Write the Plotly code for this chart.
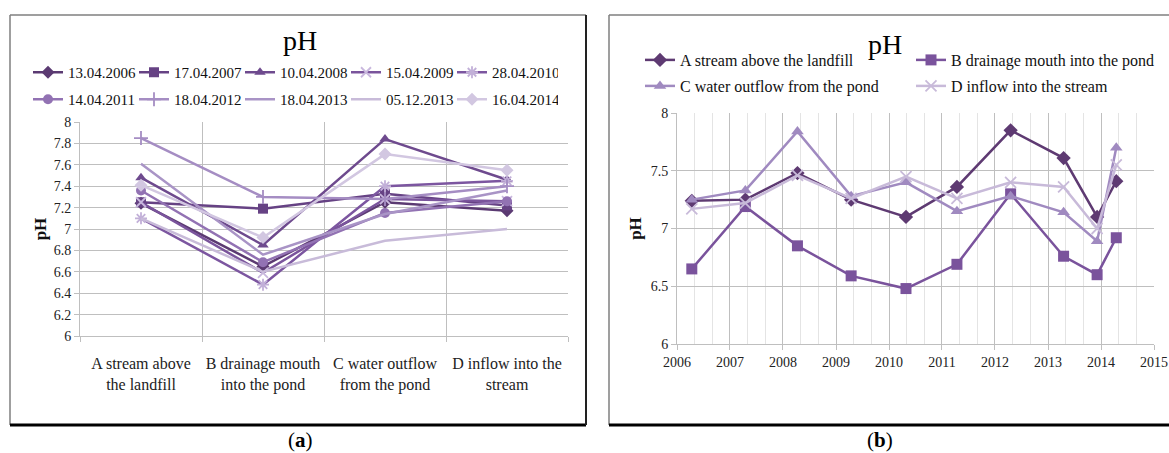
import plotly.graph_objects as go

W, H = 1169, 453

# ---------------- data ----------------
dates = ["13.04.2006", "17.04.2007", "10.04.2008", "15.04.2009", "28.04.2010",
         "14.04.2011", "18.04.2012", "18.04.2013", "05.12.2013", "16.04.2014"]
dates_iso = ["2006-04-13", "2007-04-17", "2008-04-10", "2009-04-15", "2010-04-28",
             "2011-04-14", "2012-04-18", "2013-04-18", "2013-12-05", "2014-04-16"]
sites = ["A stream above the landfill", "B drainage mouth into the pond",
         "C water outflow from the pond", "D inflow into the stream"]
site_ticks = ["A stream above<br>the landfill", "B drainage mouth<br>into the pond",
              "C water outflow<br>from the pond", "D inflow into the<br>stream"]

ph_A = [7.24, 7.25, 7.48, 7.25, 7.10, 7.36, 7.85, 7.61, 7.10, 7.41]
ph_B = [6.65, 7.19, 6.85, 6.59, 6.48, 6.69, 7.30, 6.76, 6.60, 6.92]
ph_C = [7.25, 7.33, 7.84, 7.28, 7.40, 7.15, 7.28, 7.14, 6.89, 7.70]
ph_D = [7.17, 7.22, 7.46, 7.26, 7.45, 7.26, 7.40, 7.36, 7.00, 7.55]
ph_sites = [ph_A, ph_B, ph_C, ph_D]

# ---------------- styles ----------------
FONT = "Liberation Serif"
date_colors = ["#5B3A72", "#664284", "#6E4A8E", "#7A549C", "#7C56A0",
               "#9272B3", "#A58DC3", "#A994C6", "#C8BBD9", "#D2C7E1"]
date_mcolors = ["#5B3A72", "#664284", "#6E4A8E", "#C9B8DE", "#C2B0D8",
                "#9272B3", "#A58DC3", "#A994C6", "#C8BBD9", "#D2C7E1"]
date_symbols = ["diamond", "square", "triangle-up", "x-thin", "asterisk",
                "circle", "cross-thin", None, None, "diamond"]
site_colors = ["#5E3A72", "#7A539C", "#A08AC0", "#C8BAD9"]
site_symbols = ["diamond", "square", "triangle-up", "x-thin"]

GRID = "#BFBFBF"

def fx(p):
    return p / W

def fy(p):
    return 1 - p / H

fig = go.Figure()

# ---------------- left chart ----------------
for i, d in enumerate(dates):
    yv = [ph_sites[k][i] for k in range(4)]
    sym = date_symbols[i]
    open_sym = sym in ("x-thin", "asterisk", "cross-thin")
    mk = dict(size=10, color=date_mcolors[i],
              line=dict(width=1.8 if open_sym else 0, color=date_mcolors[i]))
    if sym:
        mk["symbol"] = sym
    fig.add_trace(go.Scatter(
        x=site_ticks, y=yv, name=d,
        mode="lines+markers" if sym else "lines",
        line=dict(color=date_colors[i], width=2.5),
        marker=mk,
        xaxis="x", yaxis="y",
        legend="legend" if i < 5 else "legend2",
    ))

# ---------------- right chart ----------------
for j, s in enumerate(sites):
    sym = site_symbols[j]
    open_sym = sym == "x-thin"
    fig.add_trace(go.Scatter(
        x=dates_iso, y=ph_sites[j], name=s,
        mode="lines+markers",
        line=dict(color=site_colors[j], width=2.5),
        marker=dict(symbol=sym, size=11, color=site_colors[j],
                    line=dict(width=1.8 if open_sym else 0, color=site_colors[j])),
        xaxis="x2", yaxis="y2",
        legend="legend3" if j < 2 else "legend4",
    ))

axis_font = dict(family=FONT, size=16, color="#222")
tick_font = dict(family=FONT, size=14, color="#222")

leg_common = dict(orientation="h", xanchor="left", yanchor="top",
                  bgcolor="rgba(0,0,0,0)", borderwidth=0,
                  entrywidthmode="pixels", itemwidth=30)

fig.update_layout(
    width=W, height=H,
    margin=dict(l=0, r=0, t=0, b=0, autoexpand=False),
    paper_bgcolor="white", plot_bgcolor="white",
    font=dict(family=FONT, color="#111"),
    xaxis=dict(domain=[fx(80), fx(568)], anchor="y", type="category",
               tickson="boundaries", range=[-0.5, 3.5], tickangle=0,
               ticklabelstandoff=13,
               showgrid=True, gridcolor=GRID, gridwidth=1,
               showline=True, linecolor=GRID, linewidth=1,
               ticks="outside", ticklen=5, tickcolor=GRID,
               tickfont=axis_font, zeroline=False),
    yaxis=dict(domain=[fy(336), fy(122)], anchor="x", range=[6, 8],
               dtick=0.2, tick0=6,
               showgrid=True, gridcolor=GRID, gridwidth=1,
               showline=True, linecolor=GRID, linewidth=1,
               ticks="outside", ticklen=5, tickcolor=GRID,
               tickfont=tick_font, zeroline=False,
               title=dict(text="<b>pH</b>", font=dict(family=FONT, size=17), standoff=2)),
    xaxis2=dict(domain=[fx(677), fx(1154)], anchor="y2", type="date",
                range=["2006-01-01", "2015-01-01"], tick0="2006-01-01",
                dtick="M12", tickformat="%Y", tickangle=0,
                showgrid=True, gridcolor=GRID, gridwidth=1,
                minor=dict(dtick="M4", showgrid=True, gridcolor="#E4E4E4", ticks=""),
                showline=True, linecolor=GRID, linewidth=1,
                ticks="outside", ticklen=5, tickcolor=GRID,
                tickfont=tick_font, zeroline=False),
    yaxis2=dict(domain=[fy(344), fy(113)], anchor="x2", range=[6, 8],
                dtick=0.5, tick0=6,
                showgrid=True, gridcolor=GRID, gridwidth=1,
                showline=True, linecolor=GRID, linewidth=1,
                ticks="outside", ticklen=5, tickcolor=GRID,
                tickfont=tick_font, zeroline=False,
                title=dict(text="<b>pH</b>", font=dict(family=FONT, size=17), standoff=4)),
    legend=dict(x=fx(28), y=fy(56), entrywidth=61,
                font=dict(family=FONT, size=15, color="#111"), **leg_common),
    legend2=dict(x=fx(28), y=fy(83), entrywidth=61,
                 font=dict(family=FONT, size=15, color="#111"), **leg_common),
    legend3=dict(x=fx(640), y=fy(43), entrywidth=226,
                 font=dict(family=FONT, size=16, color="#111"), **leg_common),
    legend4=dict(x=fx(640), y=fy(69), entrywidth=226,
                 font=dict(family=FONT, size=16, color="#111"), **leg_common),
    showlegend=True,
)

# titles and captions
def label(text, x, y, size):
    fig.add_annotation(text=text, x=fx(x), y=fy(y), xref="paper", yref="paper",
                       xanchor="center", yanchor="middle", showarrow=False,
                       font=dict(family=FONT, size=size, color="#000"))

label("pH", 300, 40, 28)
label("pH", 885, 44, 28)
label("(<b>a</b>)", 300, 440, 21)
label("(<b>b</b>)", 880, 440, 21)

# panel borders
def seg(x0, y0, x1, y1, color, width):
    fig.add_shape(type="line", xref="paper", yref="paper",
                  x0=fx(x0), y0=fy(y0), x1=fx(x1), y1=fy(y1),
                  line=dict(color=color, width=width))

seg(10, 15, 586, 15, "#7F7F7F", 1.5)
seg(10, 15, 10, 425, "#7F7F7F", 1.5)
seg(10, 425, 586, 425, "#000", 3)
seg(586, 15, 586, 425, "#222", 2)
seg(609, 15, 1169, 15, "#7F7F7F", 1.5)
seg(609, 15, 609, 425, "#7F7F7F", 1.5)
seg(609, 425, 1169, 425, "#000", 3)

fig.write_html("out.html", config={"displayModeBar": False},
               post_script="document.body.style.margin='0px';")
